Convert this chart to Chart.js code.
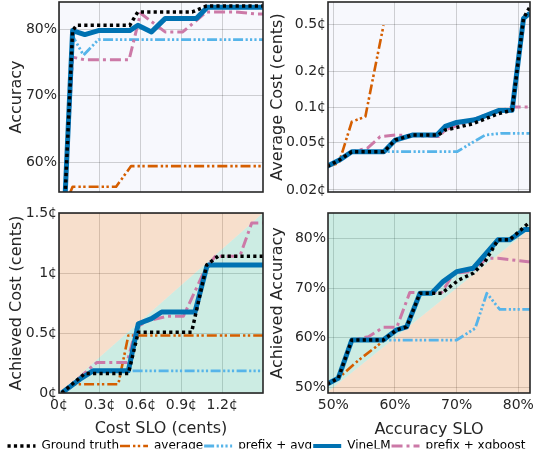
<!DOCTYPE html>
<html>
<head>
<meta charset="utf-8">
<script src="https://cdn.jsdelivr.net/npm/chart.js@4.4.0/dist/chart.umd.min.js"></script>
<style>
  body { margin: 0; background: #fff; }
  #wrap { position: relative; width: 533px; height: 458px; }
  canvas { position: absolute; }
</style>
</head>
<body>
<div id="wrap">
  <canvas id="tl" style="left:0;top:0" width="266" height="200"></canvas>
  <canvas id="tr" style="left:266px;top:0" width="267" height="200"></canvas>
  <canvas id="bl" style="left:0;top:200px" width="266" height="240"></canvas>
  <canvas id="br" style="left:266px;top:200px" width="267" height="240"></canvas>
  <canvas id="lg" style="left:0;top:437px" width="533" height="21"></canvas>
</div>
<script>
// series order: Ground truth, average, prefix + avg, VineLM, prefix + xgboost
const seriesNames = ['Ground truth', 'average', 'prefix + avg', 'VineLM', 'prefix + xgboost'];

// top left: cost SLO (cents) -> accuracy (%)
const truthTL = [[0.045, 55.0], [0.1, 79.8], [0.13, 80.6], [0.52, 80.6], [0.58, 82.6], [0.98, 82.6], [1.085, 83.5], [1.5, 83.5]];
const avgTL = [[0.08, 55.3], [0.1, 56.3], [0.42, 56.3], [0.53, 59.4], [1.5, 59.4]];
const prefAvgTL = [[0.045, 55.0], [0.1, 79.0], [0.18, 76.1], [0.29, 78.45], [1.5, 78.45]];
const vineTL = [[0.045, 55.0], [0.1, 79.8], [0.19, 79.2], [0.29, 79.8], [0.52, 79.8], [0.58, 80.6], [0.68, 79.6], [0.78, 81.6], [1.01, 81.6], [1.09, 83.3], [1.5, 83.3]];
const xgbTL = [[0.045, 55.0], [0.1, 75.8], [0.19, 75.4], [0.515, 75.4], [0.6, 82.4], [0.78, 79.6], [0.91, 79.6], [1.085, 82.6], [1.3, 82.6], [1.45, 82.3], [1.5, 82.3]];

// top right: accuracy SLO (%) -> average cost (cents, log)
const truthTR = [[49.0, 0.0316], [51.1, 0.036], [53.0, 0.042], [58.2, 0.042], [60.05, 0.0527], [62.8, 0.058], [67.0, 0.058], [68.15, 0.064], [72.5, 0.072], [76.8, 0.088], [79.0, 0.094], [80.85, 0.56], [82.0, 0.72]];
const avgTR = [[49.0, 0.0316], [50.9, 0.0336], [53.0, 0.0752], [55.2, 0.083], [56.8, 0.219], [58.15, 0.49]];
const prefAvgTR = [[49.0, 0.0316], [51.1, 0.036], [53.0, 0.042], [70.05, 0.042], [74.6, 0.058], [77.3, 0.06], [82.0, 0.06]];
const vineTR = [[49.0, 0.0316], [51.1, 0.036], [53.0, 0.042], [58.2, 0.042], [60.05, 0.0527], [62.8, 0.058], [66.8, 0.058], [68.15, 0.0687], [70.0, 0.0742], [73.0, 0.078], [76.8, 0.0936], [79.0, 0.094], [80.85, 0.56], [81.9, 0.62]];
const xgbTR = [[49.0, 0.0316], [51.1, 0.036], [53.0, 0.042], [55.5, 0.0449], [57.6, 0.0562], [60.05, 0.058], [67.1, 0.0565], [68.15, 0.064], [74.6, 0.0856], [77.3, 0.094], [79.0, 0.1], [82.0, 0.1]];

// bottom left: cost SLO (cents) -> achieved cost (cents)
const truthBL = [[0.02, 0], [0.19, 0.162], [0.51, 0.162], [0.583, 0.507], [0.975, 0.507], [1.086, 1.067], [1.17, 1.14], [1.5, 1.14]];
const avgBL = [[0.03, 0.01], [0.118, 0.073], [0.436, 0.073], [0.51, 0.479], [1.5, 0.479]];
const prefAvgBL = [[0.02, 0], [0.154, 0.115], [0.25, 0.185], [1.5, 0.185]];
const vineBL = [[0.02, 0], [0.154, 0.115], [0.25, 0.185], [0.51, 0.185], [0.583, 0.577], [0.68, 0.62], [0.755, 0.675], [1.0, 0.675], [1.086, 1.05], [1.1, 1.067], [1.5, 1.067]];
const xgbBL = [[0.02, 0], [0.277, 0.254], [0.5, 0.254], [0.571, 0.55], [0.65, 0.6], [0.8, 0.64], [0.915, 0.64], [1.06, 0.995], [1.1, 1.067], [1.15, 1.14], [1.33, 1.14], [1.417, 1.417], [1.5, 1.417]];

// bottom right: accuracy SLO (%) -> achieved accuracy (%)
const truthBR = [[49.0, 50.7], [50.8, 51.85], [53.0, 59.55], [58.1, 59.55], [60.3, 61.6], [61.9, 62.2], [64.05, 68.95], [67.6, 68.95], [70.3, 71.6], [72.7, 73.0], [74.6, 75.3], [76.7, 79.7], [78.6, 79.7], [81.6, 83.0]];
const avgBR = [[49.0, 50.7], [50.8, 51.85], [54.1, 55.5], [58.4, 59.6]];
const prefAvgBR = [[49.0, 50.7], [50.8, 51.85], [53.0, 59.55], [70.0, 59.55], [73.0, 61.9], [74.9, 68.95], [77.0, 65.7], [82.0, 65.7]];
const vineBR = [[49.0, 50.7], [50.8, 51.85], [53.0, 59.55], [58.1, 59.55], [60.3, 61.6], [61.9, 62.2], [64.05, 68.95], [65.95, 68.95], [67.8, 71.3], [70.0, 73.3], [72.7, 74.0], [76.7, 79.7], [78.6, 79.7], [81.07, 81.8], [82.0, 81.8]];
const xgbBR = [[49.0, 50.7], [50.8, 51.85], [53.0, 59.55], [55.7, 60.2], [58.1, 62.1], [60.3, 62.1], [62.4, 69.1], [67.6, 69.1], [69.5, 73.0], [72.4, 73.3], [74.9, 76.0], [76.7, 76.0], [81.6, 75.3], [82.0, 75.3]];

// tick values
const costTicks = [0, 0.3, 0.6, 0.9, 1.2];
const achievedCostTicks = [0, 0.5, 1, 1.5];
const accTicks = [60, 70, 80];
const accSloTicks = [50, 60, 70, 80];
const achievedAccTicks = [50, 60, 70, 80];
const logCostTicks = [0.02, 0.05, 0.1, 0.2, 0.5];

// styles
const lineColors = ['#000000', '#d55e00', '#56b4e9', '#0072b2', '#cc79a7'];
const lineWidths = [3.5, 2.6, 2.8, 5, 3];
const lineDashes = [[3.2, 3.2], [10, 3, 2.4, 2.4, 2.4, 3], [10, 2.5, 2.2, 2.2, 2.2, 2.2, 2.2, 2.5], [], [11, 4, 3, 4]];
const drawOrder = [0, 3, 4, 1, 2];

Chart.defaults.font.family = 'DejaVu Sans';
Chart.defaults.color = '#262626';

function lineSet(i, pts) {
    return {
        label: seriesNames[i],
        data: pts.map(function (p) { return { x: p[0], y: p[1] }; }),
        borderColor: lineColors[i],
        backgroundColor: lineColors[i],
        borderWidth: lineWidths[i],
        borderDash: lineDashes[i],
        borderCapStyle: 'butt',
        borderJoinStyle: 'round',
        order: drawOrder[i],
        pointRadius: 0,
        tension: 0,
        fill: false
    };
}

// shaded halves either side of y = x
function diagSets(lo, hi, aboveColor, belowColor) {
    var pts = [{ x: lo, y: lo }, { x: hi, y: hi }];
    return [
        { data: pts, borderWidth: 0, pointRadius: 0, fill: 'end', backgroundColor: aboveColor, order: 10 },
        { data: pts, borderWidth: 0, pointRadius: 0, fill: 'start', backgroundColor: belowColor, order: 11 }
    ];
}

function axisOpts(o) {
    return {
        type: o.type || 'linear',
        min: o.min,
        max: o.max,
        afterBuildTicks: function (scale) {
            scale.ticks = o.ticks.map(function (v) { return { value: v }; });
        },
        afterFit: function (scale) {
            if (scale.isHorizontal()) scale.height = o.size; else scale.width = o.size;
            scale.paddingTop = scale.paddingBottom = scale.paddingLeft = scale.paddingRight = 0;
        },
        ticks: {
            display: !!o.fmt,
            padding: o.tickPad || 2,
            autoSkip: false,
            maxRotation: 0,
            font: { size: 14 },
            callback: function (v) { return o.fmt ? o.fmt(v) : ''; }
        },
        grid: { color: 'rgba(0,0,0,0.17)', lineWidth: 1, drawTicks: false },
        border: { display: false },
        title: o.title ? { display: true, text: o.title, font: { size: 16 }, padding: { top: o.titlePad, bottom: o.titlePad } } : { display: false }
    };
}

function backPlugin(color) {
    return {
        id: 'back',
        beforeDraw: function (chart) {
            if (!color) return;
            var a = chart.chartArea, ctx = chart.ctx;
            ctx.save();
            ctx.fillStyle = color;
            ctx.fillRect(a.left, a.top, a.right - a.left, a.bottom - a.top);
            ctx.restore();
        }
    };
}

var framePlugin = {
    id: 'frame',
    afterDraw: function (chart) {
        var a = chart.chartArea, ctx = chart.ctx;
        ctx.save();
        ctx.strokeStyle = '#262626';
        ctx.lineWidth = 1.6;
        ctx.strokeRect(a.left, a.top, a.right - a.left, a.bottom - a.top);
        ctx.restore();
    }
};

function panel(id, bg, sets, xo, yo, pad) {
    return new Chart(document.getElementById(id).getContext('2d'), {
        type: 'line',
        data: { datasets: sets },
        options: {
            responsive: false,
            animation: false,
            layout: { padding: pad },
            plugins: { legend: { display: false }, tooltip: { enabled: false } },
            scales: { x: axisOpts(xo), y: axisOpts(yo) }
        },
        plugins: [backPlugin(bg), framePlugin]
    });
}

var pct = function (v) { return v + '%'; };
var cents = function (v) { return v + '¢'; };
var peach = 'rgba(213,94,0,0.2)';
var teal = 'rgba(0,158,115,0.2)';
var paleBg = '#f7f8fd';

panel('tl', paleBg,
    [truthTL, avgTL, prefAvgTL, vineTL, xgbTL].map(function (d, i) { return lineSet(i, d); }),
    { min: 0, max: 1.5, ticks: costTicks, size: 8 },
    { min: 55.5, max: 84.1, ticks: accTicks, fmt: pct, size: 59, title: 'Accuracy', titlePad: 7.4 },
    { top: 2, right: 3, left: 0, bottom: 0 });

panel('tr', paleBg,
    [truthTR, avgTR, prefAvgTR, vineTR, xgbTR].map(function (d, i) { return lineSet(i, d); }),
    { min: 49.14, max: 81.9, ticks: accSloTicks, size: 8 },
    { type: 'logarithmic', min: 0.0192, max: 0.77, ticks: logCostTicks, fmt: cents, size: 62, title: 'Average Cost (cents)', titlePad: 2.4 },
    { top: 2, right: 3, left: 0, bottom: 0 });

panel('bl', null,
    diagSets(-1, 3, peach, teal).concat([truthBL, avgBL, prefAvgBL, vineBL, xgbBL].map(function (d, i) { return lineSet(i, d); })),
    { min: 0, max: 1.5, ticks: costTicks, fmt: cents, size: 47, tickPad: 4, title: 'Cost SLO (cents)', titlePad: 1.4 },
    { min: 0, max: 1.5, ticks: achievedCostTicks, fmt: cents, size: 59, title: 'Achieved Cost (cents)', titlePad: 7.4 },
    { top: 13, right: 3, left: 0, bottom: 0 });

panel('br', null,
    diagSets(40, 90, teal, peach).concat([truthBR, avgBR, prefAvgBR, vineBR, xgbBR].map(function (d, i) { return lineSet(i, d); })),
    { min: 49.14, max: 81.9, ticks: accSloTicks, fmt: pct, size: 47, tickPad: 4, title: 'Accuracy SLO', titlePad: 0.4 },
    { min: 48.9, max: 85.1, ticks: achievedAccTicks, fmt: pct, size: 62, title: 'Achieved Accuracy', titlePad: 2.4 },
    { top: 13, right: 3, left: 0, bottom: 0 });

// shared legend along the bottom
new Chart(document.getElementById('lg').getContext('2d'), {
    type: 'line',
    data: { datasets: seriesNames.map(function (n, i) { return lineSet(i, []); }) },
    options: {
        responsive: false,
        animation: false,
        layout: { padding: { top: 2 } },
        scales: { x: { display: false }, y: { display: false } },
        plugins: {
            tooltip: { enabled: false },
            legend: {
                display: true,
                position: 'top',
                labels: {
                    usePointStyle: true,
                    pointStyle: 'line',
                    pointStyleWidth: 28,
                    padding: 1,
                    color: '#222',
                    font: { size: 12 },
                    generateLabels: function (chart) {
                        return chart.data.datasets.map(function (ds, i) {
                            return {
                                text: ds.label,
                                strokeStyle: ds.borderColor,
                                fillStyle: ds.borderColor,
                                lineWidth: Math.min(ds.borderWidth, 4),
                                lineDash: ds.borderDash,
                                lineCap: 'butt',
                                pointStyle: 'line',
                                hidden: false,
                                datasetIndex: i
                            };
                        });
                    }
                }
            }
        }
    }
});
</script>
</body>
</html>
